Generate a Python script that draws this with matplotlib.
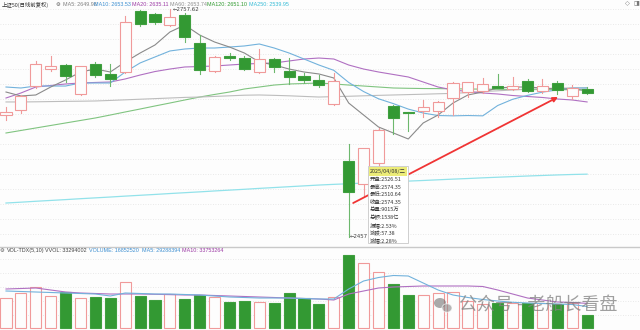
import matplotlib
matplotlib.use('Agg')
import matplotlib.pyplot as plt
from matplotlib.patches import Rectangle, Ellipse
import numpy as np

# ---------------- data ----------------
opens = [2617.9, 2624.5, 2656.1, 2678.5, 2683.8, 2645.6, 2685.1, 2672.0, 2674.6, 2755.0,
         2751.0, 2736.5, 2749.7, 2712.8, 2675.9, 2695.7, 2693.0, 2674.6, 2691.7, 2675.9,
         2669.3, 2664.1, 2632.4, 2557.3, 2526.51, 2554.6, 2629.8, 2621.9, 2623.2, 2623.2,
         2640.3, 2648.3, 2649.5, 2656.1, 2652.2, 2662.7, 2649.5, 2660.1, 2643.0, 2652.2]
highs = [2628.5, 2644.3, 2689.1, 2695.7, 2684.5, 2683.0, 2687.8, 2685.1, 2748.4, 2756.3,
         2752.4, 2757.62, 2752.4, 2723.4, 2695.7, 2699.6, 2695.7, 2704.9, 2693.0, 2693.0,
         2673.3, 2670.6, 2673.3, 2579.7, 2574.35, 2600.5, 2630.5, 2622.5, 2637.7, 2636.0,
         2661.4, 2662.0, 2666.7, 2672.0, 2668.0, 2665.4, 2665.4, 2662.7, 2657.4, 2654.8]
lows = [2611.3, 2620.5, 2654.0, 2675.9, 2661.4, 2644.0, 2668.0, 2656.1, 2673.0, 2735.2,
        2737.9, 2735.2, 2714.1, 2672.0, 2675.0, 2690.4, 2677.2, 2673.5, 2674.6, 2658.8,
        2660.1, 2654.8, 2631.0, 2457.5, 2510.64, 2551.0, 2592.9, 2596.8, 2615.3, 2615.3,
        2617.9, 2641.6, 2646.9, 2653.0, 2651.5, 2648.2, 2646.9, 2645.6, 2638.9, 2645.6]
closes = [2621.9, 2643.0, 2685.1, 2682.5, 2669.3, 2682.5, 2670.6, 2665.4, 2740.5, 2737.9,
          2740.5, 2747.1, 2720.7, 2677.2, 2694.4, 2693.0, 2678.5, 2691.7, 2681.2, 2668.0,
          2664.1, 2657.4, 2662.7, 2516.97, 2574.35, 2598.1, 2614.0, 2620.5, 2628.5, 2635.1,
          2660.1, 2661.4, 2658.8, 2653.5, 2656.1, 2649.5, 2656.1, 2650.9, 2653.5, 2646.9]
# volume in 万 (10k)
volumes = [4124, 4823, 5662, 4404, 4963, 4124, 4264, 4124, 6361, 4404,
           3845, 4683, 3984, 4544, 4264, 3565, 3705, 3565, 3425, 4823,
           4124, 3285, 4264, 10136, 9015, 7759, 6081, 4544, 4544, 4823,
           4963, 3705, 3285, 3425, 3425, 3425, 3425, 3285, 3425, 1685]

ma5 = [2648.2, 2643.0, 2644.3, 2654.8, 2664.1, 2674.6, 2678.5, 2674.6, 2687.8, 2699.6,
       2710.2, 2727.3, 2736.5, 2723.3, 2714.1, 2707.5, 2699.6, 2687.8, 2683.8, 2678.5,
       2674.6, 2672.0, 2666.7, 2633.7, 2617.9, 2602.1, 2594.2, 2586.3, 2607.4, 2617.9,
       2633.7, 2644.3, 2648.2, 2653.5, 2654.8, 2654.8, 2653.5, 2652.2, 2652.2, 2649.98]
ma10 = [2654.8, 2653.5, 2656.1, 2656.1, 2656.1, 2660.1, 2660.1, 2660.1, 2674.6, 2686.5,
        2694.4, 2702.3, 2704.9, 2706.2, 2706.2, 2707.5, 2708.9, 2711.5, 2706.2, 2699.6,
        2691.7, 2683.8, 2676.8, 2660.8, 2648.8, 2639.3, 2632.9, 2625.7, 2620.5, 2617.2,
        2616.8, 2617.2, 2616.8, 2630.4, 2638.6, 2643.8, 2648.0, 2651.0, 2653.5, 2653.53]
ma20 = [2640.3, 2646.9, 2654.8, 2656.8, 2658.8, 2660.1, 2660.8, 2661.4, 2665.4, 2670.6,
        2675.2, 2678.5, 2681.2, 2681.8, 2682.5, 2683.8, 2685.1, 2685.8, 2686.5, 2689.1,
        2691.7, 2693.0, 2691.7, 2683.8, 2678.5, 2674.6, 2671.3, 2668.0, 2661.4, 2654.8,
        2650.9, 2648.9, 2646.9, 2645.6, 2643.6, 2642.3, 2641.0, 2639.0, 2637.7, 2635.11]
ma60 = [2635.1, 2635.1, 2635.3, 2635.6, 2635.9, 2636.1, 2636.4, 2637.1, 2637.9, 2638.7,
        2639.5, 2640.3, 2641.1, 2641.6, 2642.4, 2643.2, 2644.0, 2644.3, 2643.8, 2643.2,
        2642.4, 2641.6, 2642.1, 2642.6, 2643.2, 2643.8, 2644.3, 2644.8, 2645.3, 2645.9,
        2646.4, 2647.4, 2648.8, 2649.8, 2650.9, 2651.8, 2652.7, 2653.4, 2653.5, 2653.74]
ma120 = [2594.2, 2597.5, 2600.8, 2604.1, 2607.4, 2610.7, 2614.0, 2617.9, 2621.9, 2625.8,
         2629.8, 2633.7, 2637.7, 2641.6, 2645.0, 2648.2, 2652.2, 2654.8, 2657.4, 2658.8,
         2659.4, 2660.1, 2658.8, 2657.4, 2656.1, 2654.8, 2653.5, 2653.1, 2652.8, 2652.7,
         2652.4, 2652.2, 2652.0, 2651.8, 2651.6, 2651.5, 2651.4, 2651.3, 2651.2, 2651.10]
ma250 = [2501.9, 2503.0, 2504.2, 2505.3, 2506.4, 2507.6, 2508.7, 2509.8, 2511.0, 2512.1,
         2513.2, 2514.4, 2515.5, 2516.6, 2517.8, 2518.9, 2520.0, 2521.2, 2522.3, 2523.4,
         2524.5, 2525.6, 2526.5, 2527.3, 2528.2, 2529.0, 2529.9, 2530.8, 2531.6, 2532.5,
         2533.4, 2534.2, 2535.1, 2535.9, 2536.7, 2537.5, 2538.2, 2538.9, 2539.5, 2539.95]
vol_ma5 = [5103, 5033, 4963, 4893, 4823, 4753, 4683, 4404, 4823, 4753,
           4683, 4683, 4613, 4544, 4404, 4264, 4194, 4124, 4124, 4124,
           4054, 3984, 3984, 5382, 6501, 6990, 7270, 7200, 6221, 5243,
           4544, 4194, 3914, 3705, 3523, 3425, 3355, 3285, 3215, 2929]
vol_ma10 = [5382, 5452, 5522, 5243, 4963, 4823, 4753, 4683, 4683, 4683,
            4641, 4599, 4544, 4544, 4474, 4404, 4334, 4264, 4194, 4124,
            4054, 3984, 3845, 4683, 5103, 5522, 5662, 5732, 5802, 5802,
            5802, 5802, 5732, 5243, 4683, 4124, 3845, 3565, 3495, 3375]

header_items = [("上证50(日线前复权)", '#333333'), ("⚙", '#555555'),
                ("MA5: 2649.98", '#808080'), ("MA10: 2653.53", '#3d8fd1'),
                ("MA20: 2635.11", '#9c3aa5'), ("MA60: 2653.74", '#909090'),
                ("MA120: 2651.10", '#2f9a2f'), ("MA250: 2539.95", '#38bcd6')]
vol_header_items = [("⚙", '#555555'), ("VOL-TDX(5,10)", '#444444'),
                    ("VVOL: 33294002", '#444444'), ("VOLUME: 16852520", '#3d8fd1'),
                    ("MA5: 29288394", '#3d8fd1'), ("MA10: 33753264", '#9c3aa5')]
tooltip_title = "2025/04/08/二"
tooltip_lines = ["开盘:2526.51", "最高:2574.35", "最低:2510.64", "收盘:2574.35",
                 "总量:9015万", "总额:1538亿", "振幅:2.53%", "涨跌:57.38", "涨幅:2.28%"]
arrow_from = (23.3, 2501.9)
arrow_to = (37.05, 2641.6)
watermark = "公众号 - 老船长看盘"

# ---------------- layout / style ----------------
W, H = 640, 330
BG = '#fdfdfd'
RED = '#f09a9a'
GREEN_F = '#339933'
GREEN_E = '#3f9f3f'
GREEN_W = '#6db86d'
LAT = ['Liberation Sans', 'DejaVu Sans']
CJK = ['Noto Sans CJK SC', 'DejaVu Sans']
FS = 3.9


def fx(x):
    return x / W


def fy(y):
    return 1 - y / H


def fam_for(s):
    if s in ('⚙', '◇', '◨'):
        return ['DejaVu Sans']
    if any(ord(ch) > 0x2E80 for ch in s):
        return CJK
    return LAT


fig = plt.figure(figsize=(6.4, 3.3), dpi=100, facecolor=BG)
ax = fig.add_axes([0, fy(246), 1, 246 / H])
axv = fig.add_axes([0, 0, 1, 84 / H])
for a in (ax, axv):
    a.set_axis_off()
    a.set_xlim((0 - 6) / 14.9, (W - 6) / 14.9)

ax.set_ylim(2769.48 - 1.318 * 246, 2769.48)
axv.set_ylim(-2.5 * 139.8, 81.5 * 139.8)

# dotted grid lines
for ypx in range(9, 246, 15):
    f = 1 - ypx / 246
    ax.plot([0, 1], [f, f], transform=ax.transAxes, color='#e2e2e2',
            lw=0.6, ls=(0, (1, 2)), zorder=0)
for ypx in [259, 273, 287, 301, 315]:
    f = (330 - ypx) / 84
    axv.plot([0, 1], [f, f], transform=axv.transAxes, color='#e2e2e2',
             lw=0.6, ls=(0, (1, 2)), zorder=0)

n = len(opens)
idx = np.arange(n)
bw = 0.74

ax.plot(idx, ma250, color='#92e2ea', lw=0.9, zorder=1)
ax.plot(idx, ma120, color='#80c480', lw=0.8, zorder=1)
ax.plot(idx, ma60, color='#bdbdbd', lw=0.8, zorder=1)
ax.plot(idx, ma20, color='#b070c2', lw=0.8, zorder=1)
ax.plot(idx, ma10, color='#72b2dc', lw=0.8, zorder=1)
ax.plot(idx, ma5, color='#8a8a8a', lw=0.8, zorder=1)

for i in range(n):
    o, h, l, c = opens[i], highs[i], lows[i], closes[i]
    top, bot = max(o, c), min(o, c)
    if c >= o:
        ax.plot([i, i], [top, h], color=RED, lw=0.8, zorder=2)
        ax.plot([i, i], [l, bot], color=RED, lw=0.8, zorder=2)
        ax.add_patch(Rectangle((i - bw / 2, bot), bw, max(top - bot, 0.6),
                               facecolor=BG, edgecolor=RED, lw=0.8, zorder=3))
    else:
        ax.plot([i, i], [l, h], color=GREEN_W, lw=0.8, zorder=2)
        ax.add_patch(Rectangle((i - bw / 2, bot), bw, max(top - bot, 0.6),
                               facecolor=GREEN_F, edgecolor=GREEN_E, lw=0.8, zorder=3))
    v = volumes[i]
    if c >= o:
        axv.add_patch(Rectangle((i - bw / 2, 0), bw, v, facecolor=BG,
                                edgecolor=RED, lw=0.8, zorder=2))
    else:
        axv.add_patch(Rectangle((i - bw / 2, 0), bw, v, facecolor=GREEN_F,
                                edgecolor=GREEN_E, lw=0.8, zorder=2))

axv.plot(idx, vol_ma10, color='#b070c2', lw=0.8, zorder=3)
axv.plot(idx, vol_ma5, color='#72b2dc', lw=0.8, zorder=3)

# high / low labels
ih = int(np.argmax(highs))
il = int(np.argmin(lows))
ax.text(ih + 0.2, highs[ih] - 0.5, '\u2190' + f"{highs[ih]:.2f}", fontsize=FS,
        family=['DejaVu Sans'], color='#444444', va='center', ha='left', zorder=6)
ax.text(il + 0.05, lows[il], '\u2190' + f"{int(lows[il])}", fontsize=FS,
        family=['DejaVu Sans'], color='#444444', va='center', ha='left', zorder=6)

# red arrow
ax.annotate('', xy=arrow_to, xytext=arrow_from,
            arrowprops=dict(arrowstyle='-|>', color='#f03434', lw=1.3,
                            mutation_scale=7, shrinkA=0, shrinkB=0), zorder=4)

# separator
fig.add_artist(plt.Line2D([0, 1], [fy(246.5), fy(246.5)], transform=fig.transFigure,
                          color='#c9c9c9', lw=1.0))

# headers
hx = [2, 56, 63, 94, 132, 170, 207, 249]
for (s, col), x in zip(header_items, hx):
    fig.text(fx(x), fy(4.5), s, fontsize=FS, color=col, family=fam_for(s),
             va='center', ha='left')
vx = [0, 7, 45, 89, 142, 182]
for (s, col), x in zip(vol_header_items, vx):
    fig.text(fx(x), fy(250.5), s, fontsize=FS, color=col, family=fam_for(s),
             va='center', ha='left')
fig.text(fx(625), fy(4), '◇', fontsize=4.5, color='#777777', family=['DejaVu Sans'],
         va='center', ha='left')
fig.text(fx(633), fy(4), '◨', fontsize=4.5, color='#777777', family=['DejaVu Sans'],
         va='center', ha='left')

# tooltip
fig.add_artist(Rectangle((fx(368), fy(243)), fx(40), 77 / H, transform=fig.transFigure,
                         facecolor='#ffffff', edgecolor='#c8c8c8', lw=0.6, zorder=5))
fig.add_artist(Rectangle((fx(368.6), fy(176)), fx(38.8), 9.5 / H, transform=fig.transFigure,
                         facecolor='#ecec78', edgecolor='none', zorder=5.5))
fig.text(fx(369.5), fy(171.5), tooltip_title, fontsize=FS, family=CJK, color='#333333',
         va='center', ha='left', zorder=6)
for k, s in enumerate(tooltip_lines):
    fig.text(fx(369.5), fy(179.5 + k * 7.6), s, fontsize=FS, family=CJK, color='#333333',
             va='center', ha='left', zorder=6)

# watermark
fig.add_artist(Ellipse((fx(440), fy(303)), fx(12), 10 / H, transform=fig.transFigure,
                       facecolor='#666666', alpha=0.55, edgecolor='none', zorder=7))
fig.add_artist(Ellipse((fx(447), fy(308)), fx(10), 8.5 / H, transform=fig.transFigure,
                       facecolor='#888888', alpha=0.6, edgecolor=BG, lw=0.8, zorder=7))
fig.text(fx(459), fy(305), watermark, fontsize=13, family=CJK,
         color='#808080', alpha=0.75, va='center', ha='left', zorder=7)

fig.savefig('out.png', dpi=100, facecolor=BG)
